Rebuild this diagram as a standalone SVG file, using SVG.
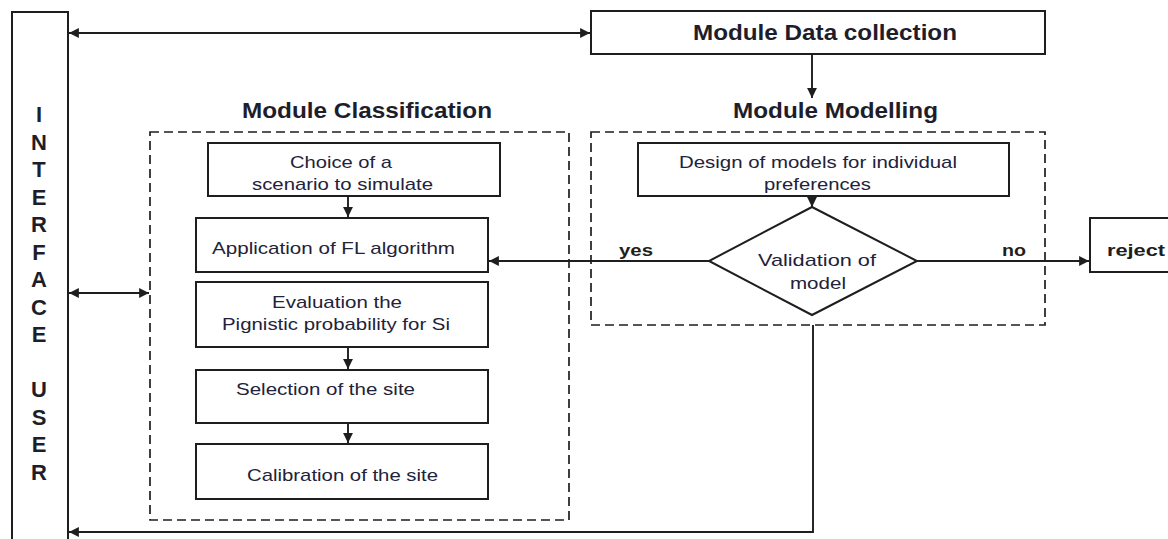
<svg xmlns="http://www.w3.org/2000/svg" width="1168" height="539" viewBox="0 0 1168 539">
<defs>
<style>
.box{fill:#fff;stroke:#1e1e1e;stroke-width:2}
.dash{fill:none;stroke:#1e1e1e;stroke-width:1.7;stroke-dasharray:9 5}
.ln{fill:none;stroke:#1e1e1e;stroke-width:1.9}
.t{font-family:"Liberation Sans",Arial,sans-serif;font-size:17px;fill:#22223a}
.tb{font-family:"Liberation Sans",Arial,sans-serif;font-size:17px;font-weight:bold;fill:#1e1e1e}
.title{font-family:"Liberation Sans",Arial,sans-serif;font-size:22px;font-weight:bold;fill:#1e1e2a}
.v{font-family:"Liberation Sans",Arial,sans-serif;font-size:22px;font-weight:bold;fill:#1e1e2a;text-anchor:middle}
</style>
<marker id="ah" viewBox="0 0 10 10" refX="10" refY="5" markerWidth="5.2" markerHeight="5.2" orient="auto-start-reverse" markerUnits="strokeWidth">
<path d="M0,0 L10,5 L0,10 z" fill="#1e1e1e"/>
</marker>
</defs>
<rect width="1168" height="539" fill="#fff"/>

<g id="interface">
<rect class="box" x="12" y="12" width="56" height="540"/>
<text class="v" x="39" y="122">I</text>
<text class="v" x="39" y="149.5">N</text>
<text class="v" x="39" y="177">T</text>
<text class="v" x="39" y="204.5">E</text>
<text class="v" x="39" y="232">R</text>
<text class="v" x="39" y="259.5">F</text>
<text class="v" x="39" y="287">A</text>
<text class="v" x="39" y="314.5">C</text>
<text class="v" x="39" y="342">E</text>
<text class="v" x="39" y="397">U</text>
<text class="v" x="39" y="424.5">S</text>
<text class="v" x="39" y="452">E</text>
<text class="v" x="39" y="479.5">R</text>
</g>

<g id="data-collection">
<rect class="box" x="591" y="11" width="454" height="43"/>
<text class="title" x="693" y="40" textLength="264" lengthAdjust="spacingAndGlyphs">Module Data collection</text>
</g>

<g id="module-classification">
<text class="title" x="242" y="118" textLength="250" lengthAdjust="spacingAndGlyphs">Module Classification</text>
<rect class="dash" x="150" y="132" width="419" height="388"/>
</g>

<g id="module-modelling">
<text class="title" x="733" y="118" textLength="205" lengthAdjust="spacingAndGlyphs">Module Modelling</text>
<rect class="dash" x="591" y="132" width="454" height="193"/>
</g>

<g id="choice">
<rect class="box" x="208" y="143" width="292" height="53"/>
<text class="t" x="290" y="168" textLength="102" lengthAdjust="spacingAndGlyphs">Choice of a</text>
<text class="t" x="252" y="190" textLength="181" lengthAdjust="spacingAndGlyphs">scenario to simulate</text>
</g>

<g id="application">
<rect class="box" x="196" y="218" width="292" height="54"/>
<text class="t" x="212" y="254" textLength="243" lengthAdjust="spacingAndGlyphs">Application of FL algorithm</text>
</g>

<g id="evaluation">
<rect class="box" x="196" y="282" width="292" height="65"/>
<text class="t" x="272" y="308" textLength="130" lengthAdjust="spacingAndGlyphs">Evaluation the</text>
<text class="t" x="222" y="330" textLength="228" lengthAdjust="spacingAndGlyphs">Pignistic probability for Si</text>
</g>

<g id="selection">
<rect class="box" x="196" y="370" width="292" height="53"/>
<text class="t" x="236" y="395" textLength="179" lengthAdjust="spacingAndGlyphs">Selection of the site</text>
</g>

<g id="calibration">
<rect class="box" x="196" y="444" width="292" height="55"/>
<text class="t" x="247" y="481" textLength="191" lengthAdjust="spacingAndGlyphs">Calibration of the site</text>
</g>

<g id="design">
<rect class="box" x="638" y="143" width="371" height="53"/>
<text class="t" x="679" y="168" textLength="278" lengthAdjust="spacingAndGlyphs">Design of models for individual</text>
<text class="t" x="764" y="190" textLength="107" lengthAdjust="spacingAndGlyphs">preferences</text>
</g>

<g id="validation">
<polygon class="box" points="812,207 917,261 812,315 709,261"/>
<text class="t" x="758" y="266" textLength="118" lengthAdjust="spacingAndGlyphs">Validation  of</text>
<text class="t" x="790" y="289" textLength="56" lengthAdjust="spacingAndGlyphs">model</text>
</g>

<g id="reject">
<rect class="box" x="1090" y="218" width="90" height="54"/>
<text class="tb" x="1107" y="256" textLength="58" lengthAdjust="spacingAndGlyphs">reject</text>
</g>

<g id="connectors">
<line class="ln" x1="69" y1="33" x2="590" y2="33" marker-start="url(#ah)" marker-end="url(#ah)"/>
<line class="ln" x1="812" y1="54" x2="812" y2="98" marker-end="url(#ah)"/>
<line class="ln" x1="69" y1="293" x2="149" y2="293" marker-start="url(#ah)" marker-end="url(#ah)"/>
<line class="ln" x1="348" y1="196" x2="348" y2="217" marker-end="url(#ah)"/>
<line class="ln" x1="348" y1="347" x2="348" y2="369" marker-end="url(#ah)"/>
<line class="ln" x1="348" y1="423" x2="348" y2="443" marker-end="url(#ah)"/>
<line class="ln" x1="812" y1="196" x2="812" y2="207" marker-end="url(#ah)"/>
<line class="ln" x1="709" y1="261" x2="489" y2="261" marker-end="url(#ah)"/>
<line class="ln" x1="917" y1="261" x2="1089" y2="261" marker-end="url(#ah)"/>
<polyline class="ln" points="813,325 813,532 69,532" marker-end="url(#ah)"/>
<text class="tb" x="619" y="256" textLength="34" lengthAdjust="spacingAndGlyphs">yes</text>
<text class="tb" x="1002" y="256" textLength="24" lengthAdjust="spacingAndGlyphs">no</text>
</g>
</svg>
